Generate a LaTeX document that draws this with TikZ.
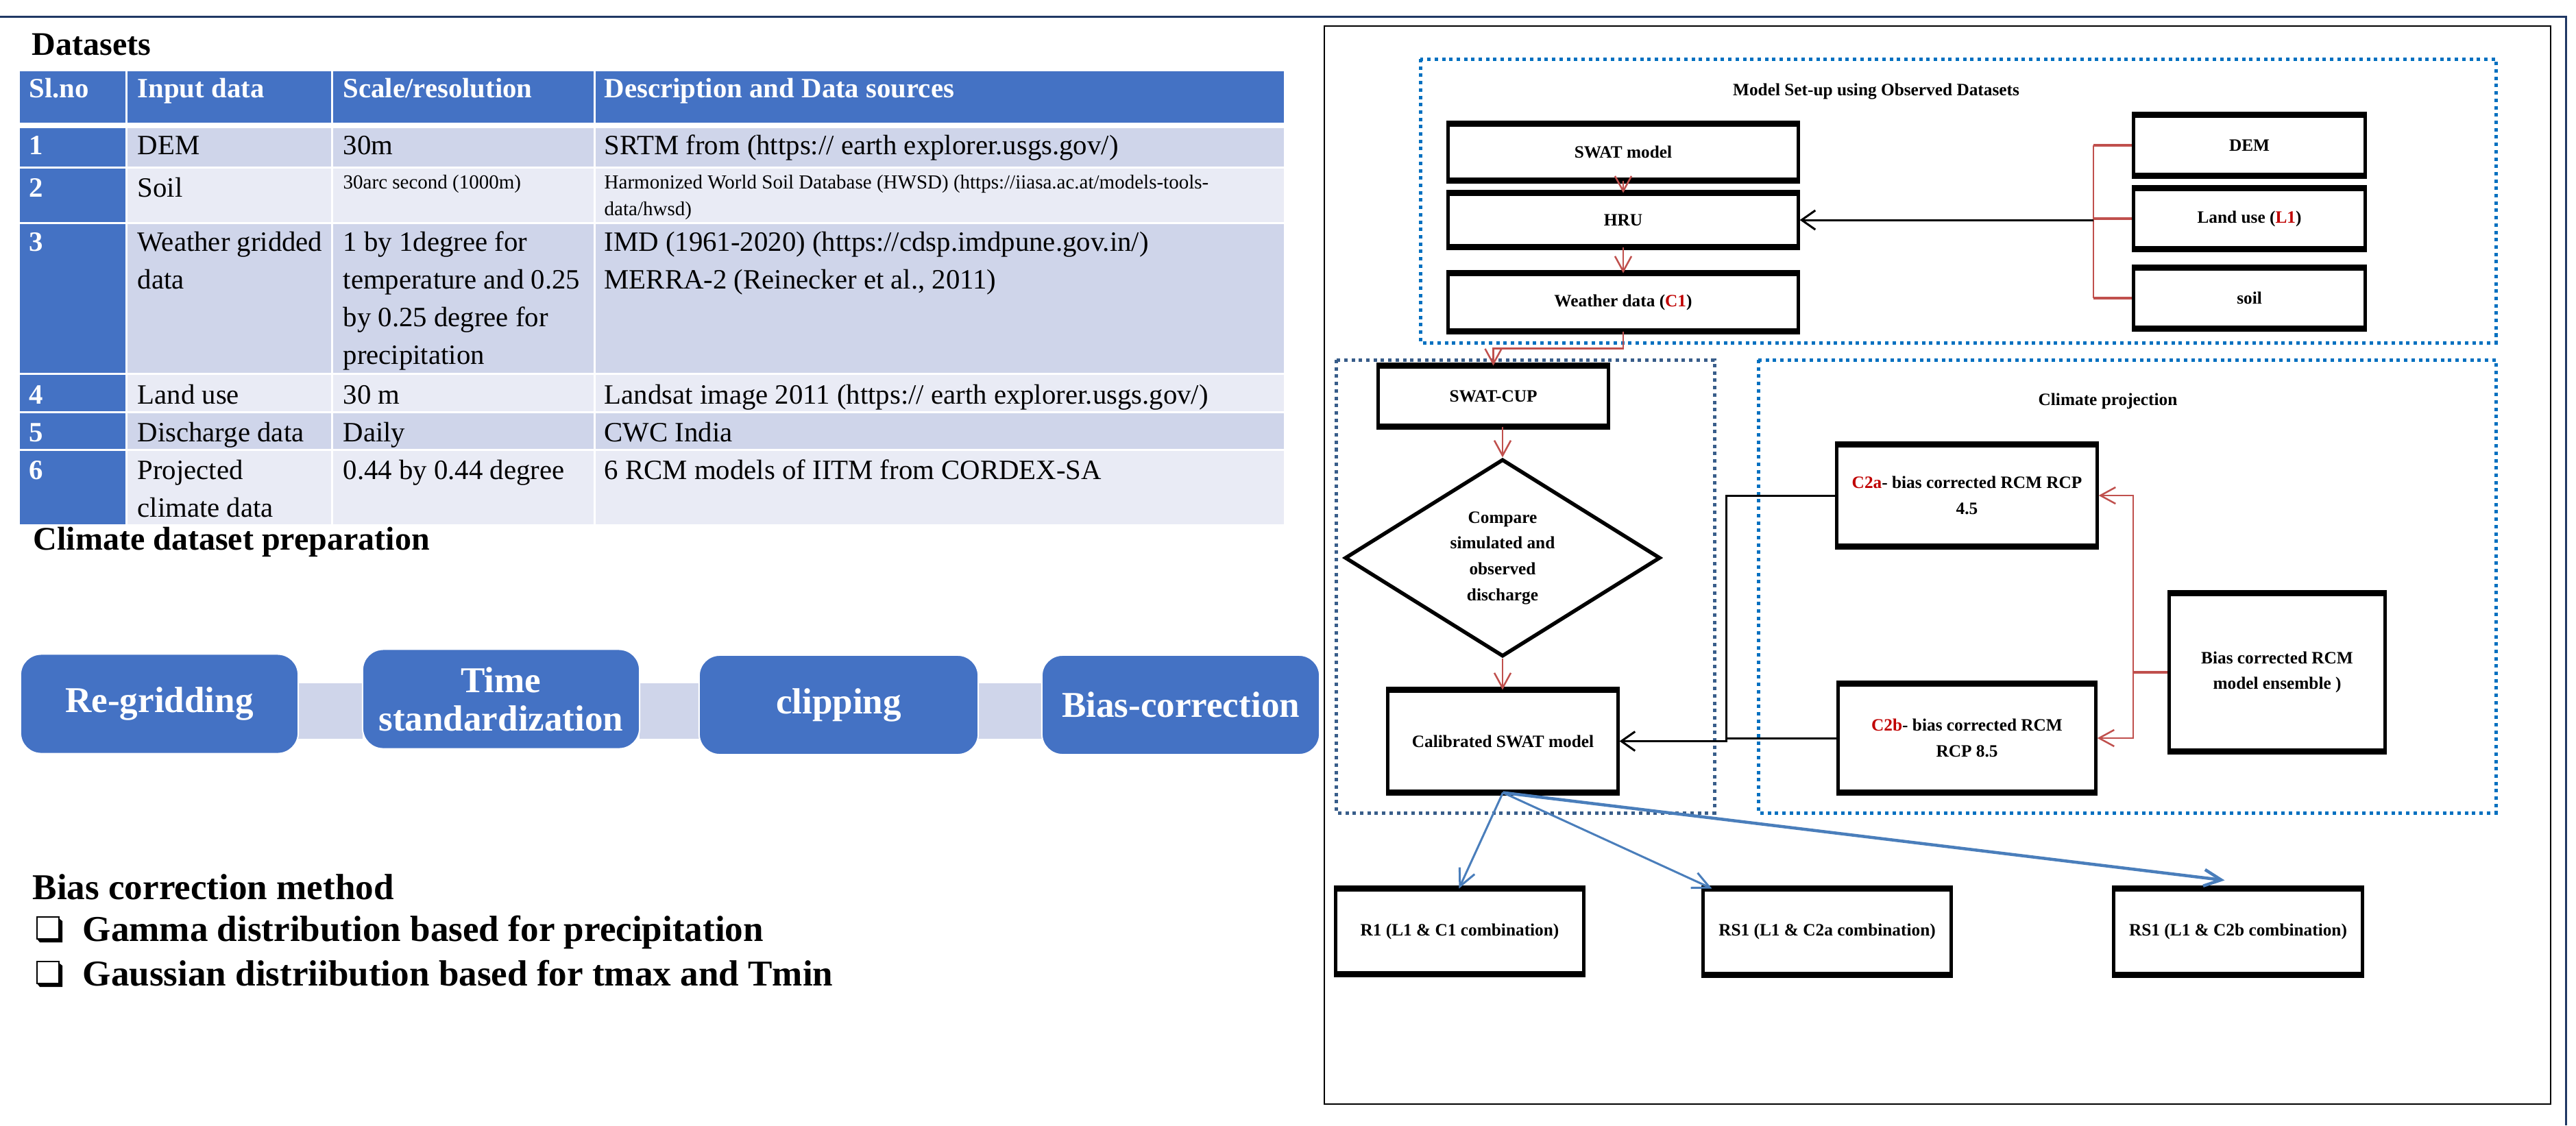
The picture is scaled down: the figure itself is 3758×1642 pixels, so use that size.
\documentclass[tikz,border=0pt]{standalone}
\usepackage{fontspec}
\setmainfont{Liberation Serif}
\usetikzlibrary{arrows.meta,shapes.geometric,calc}

\definecolor{hdrblue}{HTML}{4472C4}
\definecolor{rowdark}{HTML}{CFD5EA}
\definecolor{rowlight}{HTML}{E9EBF5}
\definecolor{framenavy}{HTML}{203864}
\definecolor{dotblue}{HTML}{0070C0}
\definecolor{dotnavy}{HTML}{385D8A}
\definecolor{linkred}{HTML}{C0504D}
\definecolor{txtred}{HTML}{C00000}
\definecolor{arrowblue}{HTML}{4A7EBB}

\newcommand{\cellfnt}{\fontsize{11.6}{15.6}\selectfont}
\newcommand{\cellsmallfnt}{\fontsize{8.25}{11}\selectfont}
\newcommand{\headfnt}{\fontsize{13.66}{16}\selectfont\bfseries}
\newcommand{\bigfnt}{\fontsize{15.1}{18}\selectfont\bfseries}
\newcommand{\procfnt}{\fontsize{15.1}{15.9}\selectfont\bfseries}
\newcommand{\flowfnt}{\fontsize{7.2}{10.7}\selectfont\bfseries}
\newcommand{\rtxt}[1]{\textcolor{txtred}{#1}}

\begin{document}
\begin{tikzpicture}[x=0.01cm, y=-0.01cm,
  cell/.style={anchor=base west, inner sep=0pt, font=\cellfnt},
  smallcell/.style={anchor=base west, inner sep=0pt, font=\cellsmallfnt},
  hcell/.style={anchor=base west, inner sep=0pt, font=\cellfnt\bfseries, text=white},
  heading/.style={anchor=base west, inner sep=0pt, font=\headfnt},
  bigline/.style={anchor=base west, inner sep=0pt, font=\bigfnt},
  procbox/.style={rounded corners=0.3cm, fill=hdrblue, draw=white, line width=0.02cm,
    text=white, font=\procfnt, align=center, inner sep=0pt},
  fbox/.style={draw, line width=0.05cm, fill=white, font=\flowfnt, align=center, inner sep=0pt},
  dotbox/.style={line width=0.05cm, dash pattern=on 0.05cm off 0.057cm},
  redline/.style={linkred, line width=0.025cm},
  redstub/.style={linkred, line width=0.045cm},
  redarrow/.style={linkred, line width=0.025cm, -{Straight Barb[length=0.22cm,width=0.24cm]}},
  blkline/.style={black, line width=0.03cm},
  blkarrow/.style={black, line width=0.03cm, -{Straight Barb[length=0.2cm,width=0.28cm]}},
  bluearrow/.style={arrowblue, line width=0.03cm, -{Straight Barb[length=0.25cm,width=0.24cm]}},
  heavyedge/.style={line width=0.08cm}
]
\useasboundingbox (0,0) rectangle (3758,1642);
\fill[white] (0,0) rectangle (3758,1642);

% ---------- outer frame lines ----------
\draw[framenavy, line width=0.03cm] (0,24) -- (3743,24) -- (3743,1642);

% ---------- datasets table ----------
\node[heading] (dsTitle) at (46,80) {Datasets};

\foreach \xa/\xb in {29/183, 186/483, 486/866, 869/1873}
  \fill[hdrblue] (\xa,104) rectangle (\xb,179);
\foreach \ra/\rb/\rc in {187/243/rowdark, 246/324/rowlight, 327/544/rowdark,
                         547/600/rowlight, 603/655/rowdark, 658/765/rowlight} {
  \fill[hdrblue] (29,\ra) rectangle (183,\rb);
  \fill[\rc] (186,\ra) rectangle (483,\rb);
  \fill[\rc] (486,\ra) rectangle (866,\rb);
  \fill[\rc] (869,\ra) rectangle (1873,\rb);
}

\node[hcell] (hA) at (42,142) {Sl.no};
\node[hcell] (hB) at (200,142) {Input data};
\node[hcell] (hC) at (500,142) {Scale/resolution};
\node[hcell] (hD) at (881,142) {Description and Data sources};

\node[hcell] (n1) at (42,225) {1};
\node[cell] (a1) at (200,225) {DEM};
\node[cell] (b1) at (500,225) {30m};
\node[cell] (c1) at (881,225) {SRTM from (https:// earth explorer.usgs.gov/)};

\node[hcell] (n2) at (42,287) {2};
\node[cell] (a2) at (200,287) {Soil};
\node[smallcell] (b2) at (500,275) {30arc second (1000m)};
\node[smallcell] (c2) at (881,275) {Harmonized World Soil Database (HWSD) (https://iiasa.ac.at/models-tools-};
\node[smallcell] (c2x) at (881,314) {data/hwsd)};

\node[hcell] (n3) at (42,366) {3};
\node[cell] (a3) at (200,366) {Weather gridded};
\node[cell] (a3x) at (200,421) {data};
\node[cell] (b3) at (500,366) {1 by 1degree for};
\node[cell] (b3x) at (500,421) {temperature and 0.25};
\node[cell] (b3y) at (500,476) {by 0.25 degree for};
\node[cell] (b3z) at (500,531) {precipitation};
\node[cell] (c3) at (881,366) {IMD (1961-2020) (https://cdsp.imdpune.gov.in/)};
\node[cell] (c3x) at (881,421) {MERRA-2 (Reinecker et al., 2011)};

\node[hcell] (n4) at (42,589) {4};
\node[cell] (a4) at (200,589) {Land use};
\node[cell] (b4) at (500,589) {30 m};
\node[cell] (c4) at (881,589) {Landsat image 2011 (https:// earth explorer.usgs.gov/)};

\node[hcell] (n5) at (42,644) {5};
\node[cell] (a5) at (200,644) {Discharge data};
\node[cell] (b5) at (500,644) {Daily};
\node[cell] (c5) at (881,644) {CWC India};

\node[hcell] (n6) at (42,699) {6};
\node[cell] (a6) at (200,699) {Projected};
\node[cell] (a6x) at (200,754) {climate data};
\node[cell] (b6) at (500,699) {0.44 by 0.44 degree};
\node[cell] (c6) at (881,699) {6 RCM models of IITM from CORDEX-SA};

% ---------- climate dataset preparation ----------
\node[heading] (prepTitle) at (48,802) {Climate dataset preparation};

\fill[rowdark] (435,997) rectangle (529,1078);
\fill[rowdark] (933,997) rectangle (1020,1078);
\fill[rowdark] (1427,997) rectangle (1520,1078);

\node[procbox, minimum width=4.05cm, minimum height=1.45cm] (regrid) at (232.5,1027) {Re-gridding};
\node[procbox, minimum width=4.04cm, minimum height=1.45cm] (timestd) at (731,1020) {Time\\standardization};
\node[procbox, minimum width=4.07cm, minimum height=1.45cm] (clip) at (1223.5,1028.5) {clipping};
\node[procbox, minimum width=4.05cm, minimum height=1.45cm] (biascor) at (1722.5,1028.5) {Bias-correction};

% ---------- bias correction method ----------
\node[bigline] (bcTitle) at (47,1312) {Bias correction method};

\foreach \yb in {1337,1402} {
  \draw[line width=0.02cm] (54,\yb+1) rectangle (86,\yb+33);
  \fill (86,\yb+3) -- (91,\yb+7) -- (91,\yb+38) -- (58,\yb+38) -- (54,\yb+33) -- (86,\yb+33) -- cycle;
}
\node[bigline] (gammaItem) at (120,1373) {Gamma distribution based for precipitation};
\node[bigline] (gaussItem) at (120,1438) {Gaussian distriibution based for tmax and Tmin};

% ---------- model workflow panel ----------
\draw[black, line width=0.02cm] (1932,38) rectangle (3721,1611);

\draw[dotbox, dotblue] (2072,86) rectangle (3641,500);
\draw[dotbox, dotnavy] (1949,525) rectangle (2501,1186);
\draw[dotbox, dotblue] (2565,525) rectangle (3641,1186);

\node[font=\flowfnt, inner sep=0pt] (setupTitle) at (2737,134) {Model Set-up using Observed Datasets};
\node[font=\flowfnt, inner sep=0pt] (projTitle) at (3075,585) {Climate projection};

\node[fbox, minimum width=5.10cm, minimum height=0.78cm] (swat) at (2368,222) {SWAT model};
\node[fbox, minimum width=5.10cm, minimum height=0.74cm] (hru) at (2368,321) {HRU};
\node[fbox, minimum width=5.10cm, minimum height=0.80cm] (weather) at (2368,441) {Weather data (\rtxt{C1})};

\node[fbox, minimum width=3.37cm, minimum height=0.84cm] (dem) at (3281.5,212) {DEM};
\node[fbox, minimum width=3.37cm, minimum height=0.84cm] (land) at (3281.5,319) {Land use (\rtxt{L1})};
\node[fbox, minimum width=3.37cm, minimum height=0.85cm] (soil) at (3281.5,435) {soil};

\node[fbox, minimum width=3.35cm, minimum height=0.84cm] (cup) at (2178.5,578) {SWAT-CUP};
\node[diamond, draw, line width=0.055cm, fill=white, minimum width=4.6cm, minimum height=2.64cm,
      inner sep=0pt, font=\flowfnt, align=center] (diam) at (2192,814)
      {Compare\\simulated and\\observed\\discharge};
\node[fbox, minimum width=3.35cm, minimum height=1.45cm] (calib) at (2192.5,1081.5) {Calibrated SWAT model};

\node[fbox, minimum width=3.79cm, minimum height=1.44cm] (c2a) at (2869.5,723)
      {\rtxt{C2a}- bias corrected RCM RCP\\4.5};
\node[fbox, minimum width=3.75cm, minimum height=1.54cm] (c2b) at (2869.5,1077)
      {\rtxt{C2b}- bias corrected RCM\\RCP 8.5};
\node[fbox, minimum width=3.14cm, minimum height=2.26cm] (ens) at (3322,981)
      {Bias corrected RCM\\model ensemble )};

\node[fbox, minimum width=3.61cm, minimum height=1.20cm] (r1) at (2129.5,1359) {R1 (L1 \& C1 combination)};
\node[fbox, minimum width=3.61cm, minimum height=1.21cm] (rs1a) at (2665.5,1359.5) {RS1 (L1 \& C2a combination)};
\node[fbox, minimum width=3.62cm, minimum height=1.21cm] (rs1b) at (3265,1359.5) {RS1 (L1 \& C2b combination)};

% heavier top and bottom edges of the process boxes
\foreach \bn in {swat,hru,weather,dem,land,soil,cup,calib,c2a,c2b,ens,r1,rs1a,rs1b} {
  \draw[heavyedge] (\bn.north west) -- (\bn.north east);
  \draw[heavyedge] (\bn.south west) -- (\bn.south east);
}

% inputs bracket into HRU
\coordinate (bx) at (3054,0);
\draw[redline] (dem.west -| bx) -- (soil.west -| bx);
\draw[redstub] (dem.west) -- (dem.west -| bx);
\draw[redstub] (land.west) -- (land.west -| bx);
\draw[redstub] (soil.west) -- (soil.west -| bx);
\draw[blkarrow] (hru.east -| bx) -- (hru.east);

% main chain
\draw[redarrow] (swat.south) -- (hru.north);
\draw[redarrow] (hru.south) -- (weather.north);
\draw[redarrow] (weather.south) -- ++(0,25) -| (cup.north);
\draw[redarrow] (cup.south -| diam.north) -- (diam.north);
\draw[redarrow] (diam.south) -- (diam.south |- calib.north);

% projections into the calibrated model
\coordinate (jn) at (2518,0);
\draw[blkarrow] (c2a.west) -| (jn |- calib.east) -- (calib.east);
\draw[blkline] (c2b.west) -- (c2b.west -| jn);

% ensemble feeding both scenarios
\coordinate (ex) at (3112,0);
\draw[redstub] (ens.west) -- (ens.west -| ex);
\draw[redarrow] (ens.west -| ex) |- (c2a.east);
\draw[redarrow] (ens.west -| ex) |- (c2b.east);

% result combinations
\draw[bluearrow] (calib.south) -- ($(r1.north west)+(182,0)$);
\draw[bluearrow] (calib.south) -- ($(rs1a.north west)+(15,0)$);
\draw[bluearrow, line width=0.045cm] (calib.south) -- ($(rs1b.north west)+(164,-12)$);

\end{tikzpicture}
\end{document}
